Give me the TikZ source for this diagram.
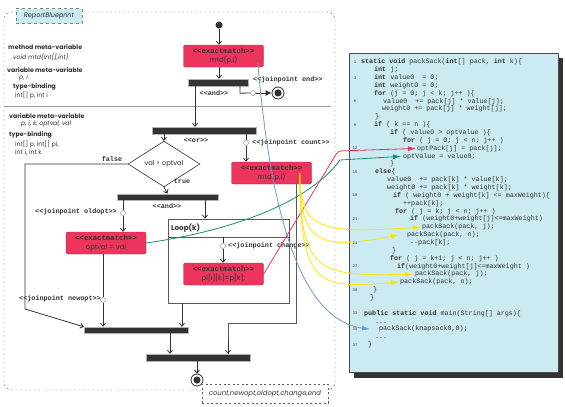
\documentclass[tikz,border=0pt]{standalone}
\usepackage{fontspec}
\setmainfont{Poppins}
\newfontfamily\codefont{Liberation Mono}
\usetikzlibrary{calc}
\usetikzlibrary{arrows.meta}
\usetikzlibrary{shapes.geometric}

\definecolor{matchred}{RGB}{236,52,92}
\definecolor{codeblue}{RGB}{204,234,242}
\definecolor{barcol}{RGB}{51,51,51}
\definecolor{linkblue}{RGB}{110,155,200}
\definecolor{linkgreen}{RGB}{20,145,105}
\definecolor{linkred}{RGB}{235,55,75}
\definecolor{linkyellow}{RGB}{255,230,0}

\tikzset{
  note/.style={anchor=west, inner sep=0pt, text=barcol, font=\fontsize{6.2}{6.5}\selectfont},
  notebold/.style={note, font=\fontsize{6.2}{6.5}\selectfont\bfseries},
  noteit/.style={note, font=\fontsize{6.2}{6.5}\selectfont\itshape},
  stlabel/.style={inner sep=0pt, text=barcol, font=\codefont\bfseries\fontsize{6.8}{7}\selectfont},
  matchbox/.style={fill=matchred, draw=matchred!80!black, rounded corners=2pt, minimum width=80pt,
    minimum height=22pt, inner sep=0pt, align=center, text=barcol, font=\fontsize{6.8}{9}\selectfont},
  bar/.style={fill=barcol, draw=gray!60, inner sep=0pt, minimum height=7pt},
  jp/.style={circle, draw=gray, fill=white, inner sep=0pt, minimum size=5pt},
  startdot/.style={circle, fill=barcol, inner sep=0pt, minimum size=7pt},
  finalnode/.style={circle, draw=barcol, fill=white, line width=0.8pt, inner sep=0pt, minimum size=12pt,
    path picture={\fill[barcol] (path picture bounding box.center) circle (3.6pt);}},
  decision/.style={diamond, draw=barcol, fill=white, line width=0.6pt, minimum width=72pt, minimum height=30pt,
    inner sep=0pt, text=barcol, font=\fontsize{6.8}{7}\selectfont},
  loopbox/.style={draw=gray!70!black, line width=0.8pt, fill=white, minimum width=121pt, minimum height=84pt, inner sep=0pt},
  flow/.style={draw=barcol, line width=0.8pt},
  link/.style={line width=0.8pt, -{Latex[length=8pt,width=5pt]}},
  codetext/.style={anchor=west, inner sep=0pt, text height=5pt, text depth=1.5pt, text=barcol,
    font=\codefont\fontsize{6.7}{7}\selectfont},
  numtext/.style={inner sep=0pt, text=barcol, font=\codefont\fontsize{4}{4}\selectfont},
}

\newcommand{\stereo}[1]{{\codefont\bfseries <{}<#1>{}>}}
\newcommand{\boxstereo}[1]{{\codefont\bfseries\fontsize{7.3}{8}\selectfont <{}<#1>{}>}}
\newcommand{\codeline}[3]{\node[codetext] (l#1) at (#2,{62+(#1-1)*7.86}) {#3};}
\newcommand{\linenum}[1]{\node[numtext] (n#1) at (355,{62+(#1-1)*7.86}) {#1};}

\begin{document}
\begin{tikzpicture}[x=1pt, y=-1pt, >={Straight Barb[length=3pt,width=5pt]}]
  \useasboundingbox (0,0) rectangle (565,407);

  % frame of the blueprint
  \draw[gray!70!black, dash pattern=on 2pt off 2.5pt, rounded corners=8pt] (4,12) rectangle (335,390);
  \node[draw=gray, dashed, fill=codeblue, minimum width=66pt, minimum height=15pt, inner sep=0pt,
    text=barcol, font=\fontsize{6.5}{7}\selectfont\itshape] (title) at (49,16) {ReportBlueprint};
  \draw[gray!80, line width=1pt] (4,106) -- (331,106);

  % meta-variables
  \node[notebold] (mvar) at (8,47) {method meta-variable};
  \node[noteit] (mvarval) at (13,57) {void mtd(int[],int)};
  \node[notebold] (vvar) at (7,70) {variable meta-variable};
  \node[noteit] (vvarval) at (19,78) {p, i};
  \node[notebold] (tbind) at (13,87) {type-binding};
  \node[note] (tbindval) at (15,95) {int[] p, int i};
  \node[notebold] (vvar2) at (9,116) {variable meta-variable};
  \node[noteit] (vvarval2) at (21,124) {p, i, k, optval, val};
  \node[notebold] (tbind2) at (9,135) {type-binding};
  \node[note] (tbindval2) at (15,144) {int[] p, int[] pi,};
  \node[note] (tbindval3) at (15,153) {int i, int k};

  % upper flow
  \node[startdot] (init) at (219,25) {};
  \node[matchbox] (mtd) at (223.5,56) {\boxstereo{exactmatch}\\mtd(p,i)};
  \draw[flow,->] (init) -- (init |- mtd.north);
  \node[bar, minimum width=60pt] (and1) at (218,82.5) {};
  \draw[flow,->] (mtd.south -| init) -- (and1.north -| init);
  \node[stlabel] (andlbl1) at (214,93) {\stereo{and}};
  \node[stlabel, anchor=west] (endlbl) at (253,80) {\stereo{joinpoint end}};
  \node[jp] (endjp) at (253,93) {};
  \node[finalnode] (end1) at (278,93) {};
  \draw[flow] ([xshift=22pt]and1.south) -- ++(0,7) -- (endjp.west);
  \draw[flow,-{Latex[length=6pt,width=6pt]}] (endjp) -- (end1);

  % or / decision
  \node[bar, minimum width=104pt] (or) at (204,130.5) {};
  \draw[flow,->] ([xshift=-23pt]and1.south) -- ([xshift=-23pt]and1.south |- or.north);
  \node[stlabel] (orlbl) at (196,140) {\stereo{or}};
  \node[decision] (test) at (164,164) {val > optval};
  \draw[flow,->] (or.south -| test) -- (test.north);
  \node[stlabel] (falselbl) at (112,159) {false};
  \node[stlabel] (truelbl) at (182,181) {true};
  \node[jp] (countjp) at (246,143) {};
  \draw[flow] (or.south -| countjp) -- (countjp);
  \node[stlabel, anchor=west] (countlbl) at (252,143) {\stereo{joinpoint count}};
  \node[matchbox] (count) at (271.5,173) {\boxstereo{exactmatch}\\mtd(p,i)};
  \draw[flow,->] (countjp) -- (countjp |- count.north);

  % and / optval
  \node[bar, minimum width=101pt, minimum height=6.5pt] (and2) at (167.5,197) {};
  \draw[flow,->] (test.south) -- (and2.north);
  \node[stlabel] (andlbl2) at (167,206) {\stereo{and}};
  \node[jp] (oldjp) at (123,213) {};
  \draw[flow] (and2.south -| oldjp) -- (oldjp);
  \node[stlabel, anchor=east] (oldlbl) at (117,212) {\stereo{joinpoint oldopt}};
  \node[matchbox] (opt) at (106,243) {\boxstereo{exactmatch}\\optval = val};
  \draw[flow,->] (oldjp) -- (oldjp |- opt.north);

  % loop
  \node[loopbox] (loop) at (228.5,261) {};
  \draw[flow,->] ([xshift=37.5pt]and2.south) -- ([xshift=37.5pt]and2.south |- loop.north);
  \coordinate (loophead) at (223,237);
  \draw[gray!70!black, line width=0.8pt] (loop.west |- loophead) -- (loop.east |- loophead);
  \node[anchor=west, inner sep=0pt, text=barcol, font=\fontsize{7.2}{7.5}\selectfont\bfseries] (looplbl) at (171,228) {Loop(k)};
  \node[jp] (changejp) at (223,246) {};
  \draw[flow] (loophead) -- (changejp);
  \node[stlabel, anchor=west] (changelbl) at (228,246) {\stereo{joinpoint change}};
  \node[matchbox] (pi) at (223.5,274) {\boxstereo{exactmatch}\\pi[i][k]=p[k];};
  \draw[flow,->] (changejp) -- (changejp |- pi.north);

  % joins
  \node[bar, minimum width=104pt, minimum height=6pt] (join1) at (136,330) {};
  \node[bar, minimum width=104pt] (join2) at (198,357.5) {};
  \node[jp] (newjp) at (103,300) {};
  \draw[flow] (opt.south -| newjp) -- (newjp);
  \draw[flow,->] (newjp) -- (newjp |- join1.north);
  \node[stlabel, anchor=east] (newlbl) at (101,299) {\stereo{joinpoint newopt}};
  \draw[flow,->] (test.west) -- (25,164) -- (25,309) -- (join1.north west);
  \draw[flow,->] ([xshift=-46.5pt]loop.south) -- ([xshift=46pt]join1.north);
  \draw[flow,->] ([xshift=34pt]join1.south) -- ([xshift=-28pt]join2.north);
  \draw[gray!70!black, line width=0.8pt] ([xshift=24.5pt]count.south) -- ++(0,139) -| ([xshift=30pt]join2.north);
  \draw[flow,->] ([xshift=30pt]join2.north |- 0,340) -- ([xshift=30pt]join2.north);
  \node[finalnode] (end2) at (197,380) {};
  \draw[flow,->] (join2.south -| end2) -- (end2.north);

  \node[draw=gray!70!black, dash pattern=on 2pt off 2.5pt, fill=white, minimum width=126pt, minimum height=19pt,
    inner sep=0pt, text=barcol, font=\fontsize{6.8}{7}\selectfont\itshape] (states) at (265,393.5) {count,newopt,oldopt,change,end};

  % code panel
  \fill[barcol] (354,58) rectangle (563,378);
  \draw[fill=codeblue, draw=gray!60!black] (349,53) rectangle (558,372);
  \codeline{1}{361}{\textbf{static void} packSack(\textbf{int}[] pack, \textbf{int} k)\{}
  \codeline{2}{374}{\textbf{int} j;}
  \codeline{3}{374}{\textbf{int} value0~~= 0;}
  \codeline{4}{374}{\textbf{int} weight0 = 0;}
  \codeline{5}{374}{\textbf{for} (j = 0; j < k; j++ )\{}
  \codeline{6}{383}{value0~~+= pack[j] * value[j];}
  \codeline{7}{382}{weight0 += pack[j] * weight[j];}
  \codeline{8}{375}{\}}
  \codeline{9}{374}{\textbf{if} ( k == n )\{}
  \codeline{10}{390}{\textbf{if} ( value0 > optValue )\{}
  \codeline{11}{403}{\textbf{for} ( j = 0; j < n; j++ )}
  \codeline{12}{417}{optPack[j] = pack[j];}
  \codeline{13}{403}{optValue = value0;}
  \codeline{14}{390}{\}}
  \codeline{15}{375}{\textbf{else}\{}
  \codeline{16}{387}{value0~~+= pack[k] * value[k];}
  \codeline{17}{387}{weight0 += pack[k] * weight[k];}
  \codeline{18}{393}{\textbf{if} ( weight0 + weight[k] <= maxWeight)\{}
  \codeline{19}{403}{+{}+pack[k];}
  \codeline{20}{395}{\textbf{for} ( j = k; j < n; j++ )}
  \codeline{21}{410}{\textbf{if} (weight0+weight[j]<=maxWeight)}
  \codeline{22}{422}{packSack(pack, j);}
  \codeline{23}{407}{packSack(pack, n);}
  \codeline{24}{410}{-{}-pack[k];}
  \codeline{25}{392}{\}}
  \codeline{26}{390}{\textbf{for} ( j = k+1; j < n; j++ )}
  \codeline{27}{397}{\textbf{if}(weight0+weight[j]<=maxWeight )}
  \codeline{28}{415}{packSack(pack, j);}
  \codeline{29}{400}{packSack(pack, n);}
  \codeline{30}{373}{\}}
  \codeline{31}{370}{\}}
  \codeline{33}{364}{\textbf{public static void} main(String[] args)\{}
  \codeline{34}{375}{...}
  \codeline{35}{379}{packSack(knapsack0,0);}
  \codeline{36}{375}{...}
  \codeline{37}{368}{\}}
  \foreach \n in {1,3,6,9,12,15,18,21,24,27,30,33,35,37} {\linenum{\n}}

  % links into the code
  \draw[link, linkblue] ([xshift=-6pt,yshift=-6pt]mtd.east) .. controls (272,230) and (305,320) .. ([xshift=-9pt]l35.west);
  \draw[link, linkred, rounded corners=3pt] (pi.east) -- (338,151) -- ([xshift=-1pt]l12.west);
  \draw[link, linkgreen] (opt.east) .. controls (250,228) and (315,195) .. (340,160) -- ([xshift=-2pt]l13.west);
  \draw[link, linkyellow] ([xshift=-12pt]count.east) .. controls (300,230) and (320,234) .. ([xshift=-1pt]l22.west);
  \draw[link, linkyellow] ([xshift=-12pt]count.east) .. controls (300,245) and (320,250) .. ([xshift=-8pt]l23.west);
  \draw[link, linkyellow] ([xshift=-12pt]count.east) .. controls (300,275) and (320,276) .. ([xshift=-2pt]l28.west);
  \draw[link, linkyellow] ([xshift=-12pt]count.east) .. controls (300,290) and (320,288) .. ([xshift=-1pt]l29.west);
\end{tikzpicture}
\end{document}
